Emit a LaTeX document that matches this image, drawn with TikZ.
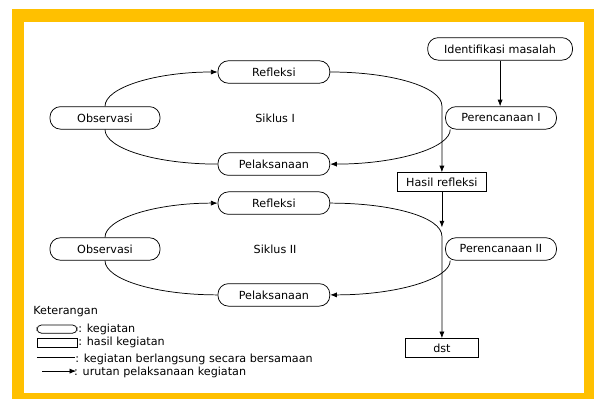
\documentclass[tikz,border=0pt]{standalone}
\usepackage{fontspec}
\setmainfont{DejaVu Sans}
\usepackage{tikz}
\usetikzlibrary{arrows.meta}
\definecolor{bingkai}{HTML}{FFC000}

\begin{document}
\begin{tikzpicture}[>={Latex[length=2.2mm,width=1.7mm]}, line width=0.7pt,
	font=\fontsize{10.6}{12}\selectfont,
	kegiatan/.style={draw, rounded corners=10pt, minimum height=0.75cm, inner sep=2pt},
	hasilkeg/.style={draw, minimum height=0.63cm, inner sep=2pt},
	ket/.style={anchor=west, inner sep=0pt}]
	%\draw[help lines, thick] (0,0) grid (20,13);
	\useasboundingbox (0,0) rectangle (19.8,13.3);
	\fill[bingkai] (0.4,0) rectangle (19.8,13.0);
	\fill[white] (0.8,0.2) rectangle (19.47,12.57);
	% siklus I
	\draw (9.13,10.9) node[kegiatan, minimum width=3.73cm] (refl1) {Refleksi};
	\draw (3.5,9.37) node[kegiatan, minimum width=3.67cm] (obs1) {Observasi};
	\draw (9.17,9.37) node (sik1) {Siklus I};
	\draw (9.13,7.83) node[kegiatan, minimum width=3.73cm] (pel1) {Pelaksanaan};
	\draw (16.67,11.67) node[kegiatan, minimum width=4.83cm] (idm) {Identifikasi masalah};
	\draw (16.7,9.37) node[kegiatan, minimum width=3.7cm] (ren1) {Perencanaan I};
	\draw (14.73,7.23) node[hasilkeg, minimum width=2.97cm] (hr) {Hasil refleksi};
	% siklus II
	\draw (9.13,6.53) node[kegiatan, minimum width=3.73cm] (refl2) {Refleksi};
	\draw (3.5,5.0) node[kegiatan, minimum width=3.67cm] (obs2) {Observasi};
	\draw (9.17,5.0) node (sik2) {Siklus II};
	\draw (9.13,3.47) node[kegiatan, minimum width=3.73cm] (pel2) {Pelaksanaan};
	\draw (16.7,5.0) node[kegiatan, minimum width=3.7cm] (ren2) {Perencanaan II};
	\draw (14.73,1.7) node[hasilkeg, minimum width=2.43cm] (dst) {dst};
	\coordinate (j1) at (14.73,9.77);
	\coordinate (j2) at (14.73,5.43);
	\coordinate (hrend) at (14.73,5.72);
	% alur
	\draw [->] (idm.south) -- (idm.south |- ren1.north);
	\draw [->] (refl1.east) to[out=0, in=90, out distance=2.06cm, in distance=0.63cm] (j1) -- (hr.north);
	\draw [->] ([xshift=0.17cm]ren1.south west) to[out=-90, in=0, out distance=0.61cm, in distance=2.23cm] (pel1.east);
	\draw (obs1.south) to[out=-90, in=180, out distance=0.63cm, in distance=2.06cm] (pel1.west);
	\draw [->] (obs1.north) to[out=90, in=180, out distance=0.63cm, in distance=2.06cm] (refl1.west);
	\draw [->] (hr.south) -- (hrend);
	\draw [->] (refl2.east) to[out=0, in=90, out distance=2.06cm, in distance=0.63cm] (j2) -- (dst.north);
	\draw [->] ([xshift=0.17cm]ren2.south west) to[out=-90, in=0, out distance=0.61cm, in distance=2.23cm] (pel2.east);
	\draw (obs2.south) to[out=-90, in=180, out distance=0.63cm, in distance=2.06cm] (pel2.west);
	\draw [->] (obs2.north) to[out=90, in=180, out distance=0.63cm, in distance=2.06cm] (refl2.west);
	% keterangan
	\draw (1.1,2.93) node[ket] (keter) {Keterangan};
	\draw (1.9,2.33) node[draw, rounded corners=4pt, minimum width=1.33cm, minimum height=0.27cm, inner sep=0pt] (lkeg) {};
	\draw (2.6,2.33) node[ket] (tkeg) {: kegiatan};
	\draw (1.9,1.87) node[draw, minimum width=1.33cm, minimum height=0.27cm, inner sep=0pt] (lhas) {};
	\draw (2.6,1.87) node[ket] (thas) {: hasil kegiatan};
	\coordinate (ga) at (1.23,1.4);
	\coordinate (gb) at (2.5,1.4);
	\draw (ga) -- (gb);
	\draw (2.5,1.32) node[ket] (tber) {: kegiatan berlangsung secara bersamaan};
	\coordinate (pa) at (1.4,0.93);
	\draw (2.46,0.9) node[ket] (turut) {: urutan pelaksanaan kegiatan};
	\draw [->] (pa) -- ([xshift=0.08cm]pa -| turut.west);
\end{tikzpicture}
\end{document}
